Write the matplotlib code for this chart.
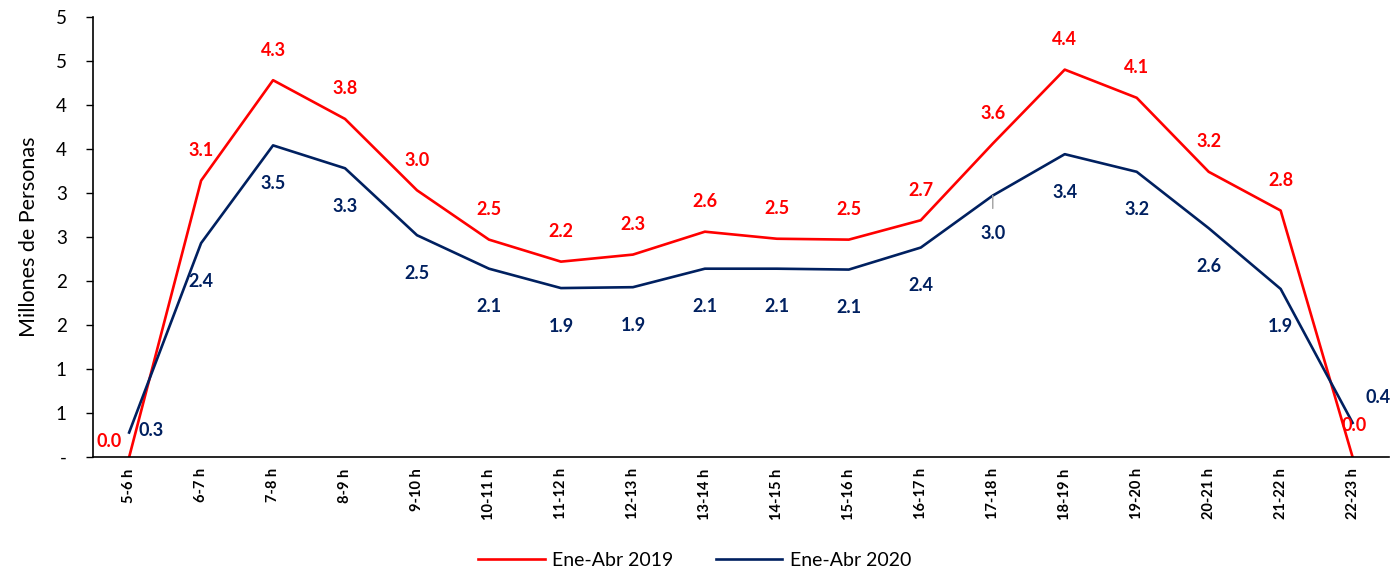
import matplotlib
matplotlib.use("Agg")
import matplotlib.pyplot as plt

# Data
hours = ["5-6 h", "6-7 h", "7-8 h", "8-9 h", "9-10 h", "10-11 h", "11-12 h",
         "12-13 h", "13-14 h", "14-15 h", "15-16 h", "16-17 h", "17-18 h",
         "18-19 h", "19-20 h", "20-21 h", "21-22 h", "22-23 h"]
ene_abr_2019 = [0.0, 3.14, 4.28, 3.84, 3.03, 2.47, 2.22, 2.30, 2.56, 2.48,
                2.47, 2.69, 3.56, 4.40, 4.08, 3.24, 2.80, 0.0]
ene_abr_2020 = [0.28, 2.43, 3.54, 3.28, 2.52, 2.14, 1.92, 1.93, 2.14, 2.14,
                2.13, 2.38, 2.97, 3.44, 3.24, 2.60, 1.91, 0.39]
y_ticks = [0, 0.5, 1, 1.5, 2, 2.5, 3, 3.5, 4, 4.5, 5]
y_tick_labels = ["-", "1", "1", "2", "2", "3", "3", "4", "4", "5", "5"]

RED = "#FF0000"
NAVY = "#002060"
plt.rcParams["font.family"] = ["Lato", "DejaVu Sans"]

fig = plt.figure(figsize=(13.9, 5.78), dpi=100)
ax = fig.add_axes([0.067, 0.209, 0.932, 0.762])

x = list(range(len(hours)))
ax.plot(x, ene_abr_2019, color=RED, lw=1.9, label="Ene-Abr 2019")
ax.plot(x, ene_abr_2020, color=NAVY, lw=1.9, label="Ene-Abr 2020")

# label offsets in pixels (default: red above, blue below)
red_off = {0: (-20, 16), 17: (2, 32)}
blue_off = {0: (22, 2), 17: (25, 25)}
for i, v in enumerate(ene_abr_2019):
    dx, dy = red_off.get(i, (0, 30))
    ax.annotate(f"{v:.1f}", (i, v), xytext=(dx, dy), textcoords="offset pixels",
                ha="center", va="center", color=RED, fontsize=13,
                fontweight="bold", annotation_clip=False)
for i, v in enumerate(ene_abr_2020):
    dx, dy = blue_off.get(i, (0, -38))
    extra = {}
    if i == 12:
        extra = dict(arrowprops=dict(arrowstyle="-", color="#A0A0A0", lw=1,
                                     shrinkA=10, shrinkB=0))
    ax.annotate(f"{v:.1f}", (i, v), xytext=(dx, dy), textcoords="offset pixels",
                ha="center", va="center", color=NAVY, fontsize=13,
                fontweight="bold", annotation_clip=False, **extra)

ax.set_xlim(-0.5, len(hours) - 0.5)
ax.set_ylim(0, 5)
ax.set_xticks(x)
ax.set_xticklabels(hours, rotation=90, fontsize=10.5, fontweight="bold")
ax.tick_params(axis="x", length=0, pad=8)
ax.set_yticks(y_ticks)
ax.set_yticklabels(y_tick_labels, fontsize=13.5)
ax.tick_params(axis="y", length=5, width=1, pad=14)
ax.set_ylabel("Millones de Personas", fontsize=15.5, labelpad=12)

for s in ["top", "right"]:
    ax.spines[s].set_visible(False)
ax.spines["left"].set_linewidth(1.2)
ax.spines["bottom"].set_linewidth(1.2)

fig.legend(loc="lower center", ncol=2, bbox_to_anchor=(0.5, -0.015),
           frameon=False, fontsize=14, handlelength=3.4, columnspacing=2.2,
           handletextpad=0.4)

fig.savefig("out.png", dpi=100)
